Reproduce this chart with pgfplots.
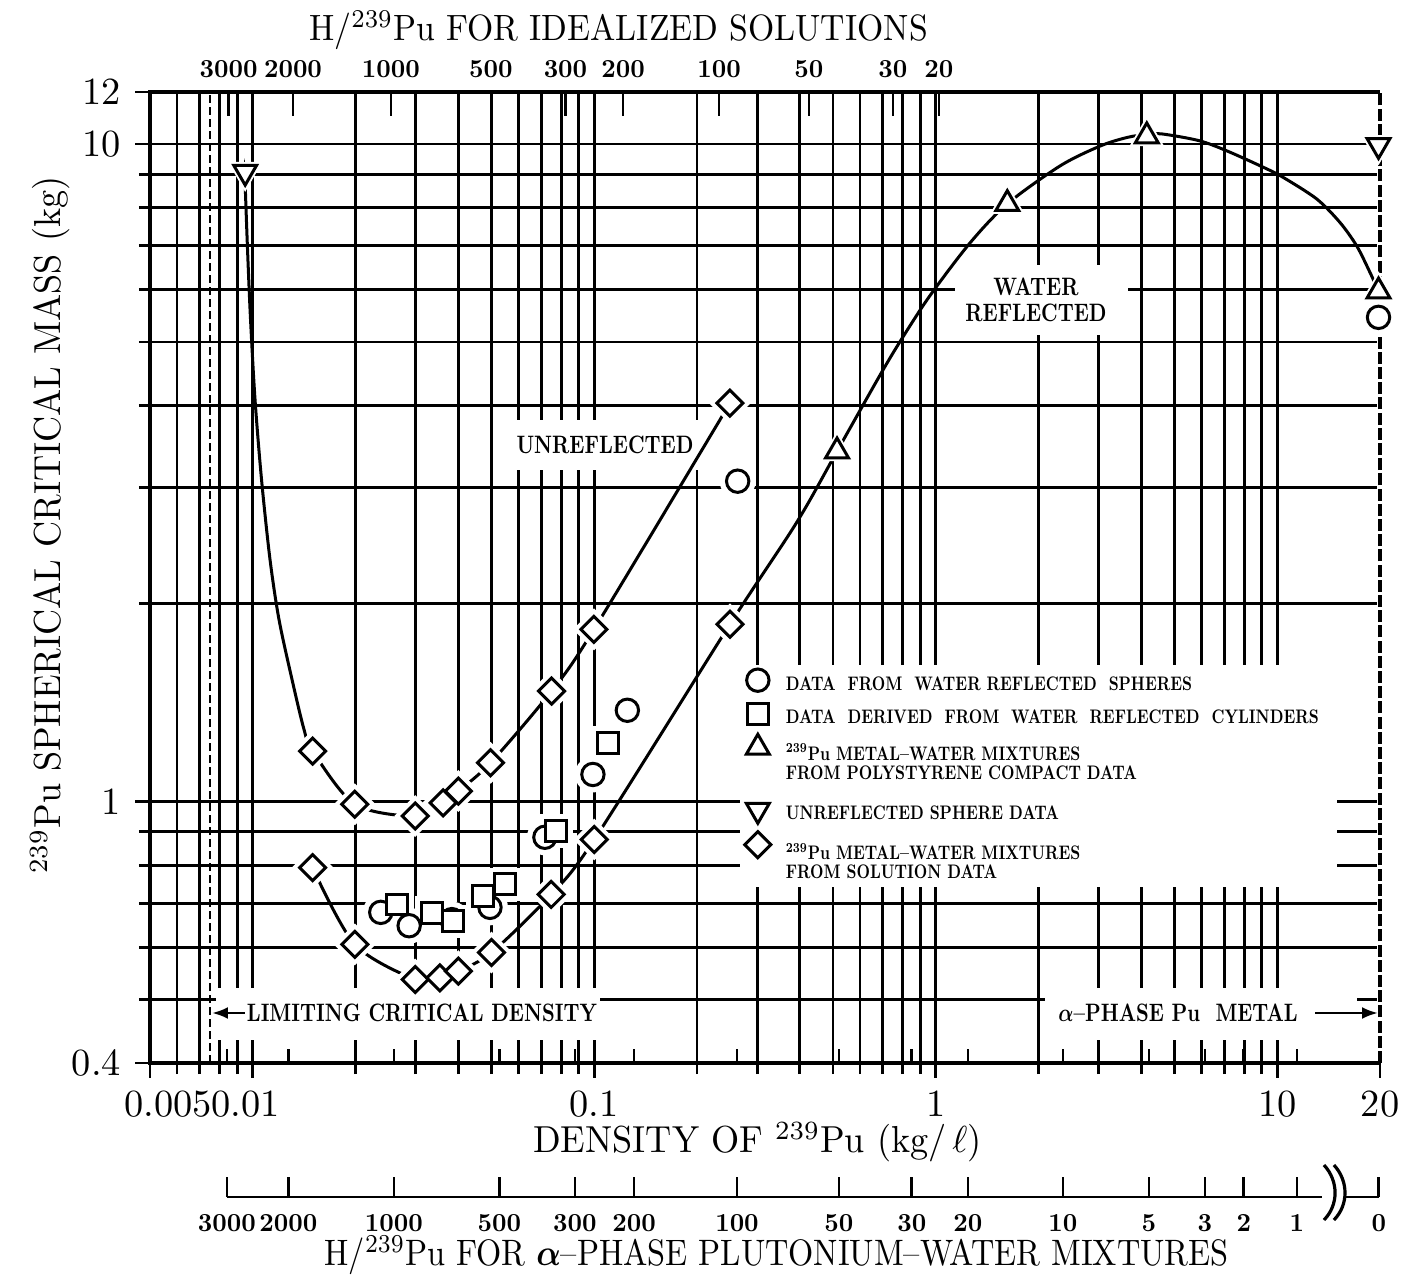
\documentclass[border=0pt]{standalone}
\usepackage{pgfplots}
\pgfplotsset{compat=1.18}
\usepackage{graphicx}
\usetikzlibrary{arrows.meta}

\newcommand{\tkf}{\fontsize{9.6}{11}\selectfont}
\newcommand{\hp}[1]{\scalebox{0.63}[0.65]{\fontsize{10}{12}\selectfont\bfseries #1}}
\newcommand{\an}[1]{\scalebox{0.5}[0.63]{\fontsize{10}{10.3}\selectfont\bfseries #1}}
\newcommand{\lgone}[1]{\rule[-1.4pt]{0pt}{4.8pt}\scalebox{0.39}[0.49]{\fontsize{10}{9.7}\selectfont\bfseries #1}}
\newcommand{\lgtwo}[2]{\rule[-6.2pt]{0pt}{11pt}\scalebox{0.39}[0.49]{\fontsize{10}{9.7}\selectfont\bfseries\begin{tabular}[t]{@{}l@{}}#1\\#2\end{tabular}}}
\newcommand{\ttl}[1]{\scalebox{0.905}[0.94]{\fontsize{10}{12}\selectfont #1}}
\newcommand{\pu}{\textsuperscript{239}Pu}

\pgfplotsset{
  legimg/.style={legend image code/.code={\path[draw=none,fill=none] (0pt,-1.4pt) rectangle (9.65pt,3.4pt);\draw[##1,overlay] plot coordinates {(4.25pt,1.5pt)};}},
  legimgtwo/.style={legend image code/.code={\path[draw=none,fill=none] (0pt,-9.7pt) rectangle (9.65pt,3.4pt);\draw[##1,overlay] plot coordinates {(4.25pt,1.5pt)};}},
  halo/.style={only marks, forget plot, white},
}

\begin{document}
\begin{tikzpicture}
\begin{axis}[
  at={(0,0)}, anchor=south west,
  scale only axis, width=307.5pt, height=242.75pt,
  xmode=log, ymode=log,
  xmin=0.005, xmax=20, ymin=0.4, ymax=12,
  clip=false,
  axis line style={draw=none},
  xtick={0.005,0.01,0.1,1,10,20},
  xticklabels={\hspace*{9pt}0.005,0.01\hspace*{3.5pt},0.1,1,10,20},
  minor xtick={0.006,0.007,0.008,0.009,0.02,0.03,0.04,0.05,0.06,0.07,0.08,0.09,0.2,0.3,0.4,0.5,0.6,0.7,0.8,0.9,2,3,4,5,6,7,8,9},
  ytick={0.4,1,10,12},
  yticklabels={0.4,1,10,12},
  minor ytick={0.5,0.6,0.7,0.8,0.9,2,3,4,5,6,7,8,9},
  grid=both,
  major grid style={black,line width=0.7pt},
  minor grid style={black,line width=0.7pt},
  tick align=outside,
  xtick pos=left, ytick pos=left,
  major tick length=3.75pt, minor tick length=2.8pt,
  tick style={black,line width=0.7pt},
  tick label style={font=\tkf},
  xticklabel style={inner sep=1pt, yshift=-2.0pt},
  extra x ticks={0.008403,0.01272,0.02591,0.05277,0.0878,0.1308,0.2618,0.5205,0.8514,1.2427,2.358,4.210,6.142,7.985,11.42},
  extra x tick labels={},
  extra x tick style={grid=none, tick align=inside, major tick length=3.5pt},
  xlabel={\ttl{DENSITY OF \pu\ (kg/\,$\ell$)}},
  xlabel style={inner sep=1pt, at={([yshift=-19.75pt]rel axis cs:0.4939,0)}, anchor=center},
  ylabel={\ttl{\pu\ SPHERICAL CRITICAL MASS (kg)}},
  ylabel style={at={([xshift=-25pt]rel axis cs:0,0.554)}, anchor=center},
  legend style={at={(0.4797,0.4029)}, anchor=north west, draw=none, fill=none, inner sep=0pt, row sep=2.55pt, nodes={inner xsep=1.6pt, inner ysep=0pt}},
  legend cell align=left,
]
% white boxes behind texts and legend
\fill[white] (rel axis cs:0.4797,0.1813) rectangle (rel axis cs:0.9650,0.4099);
\fill[white] (rel axis cs:0.0537,0.0237) rectangle (rel axis cs:0.3659,0.0772);
\fill[white] (rel axis cs:0.7276,0.0237) rectangle (rel axis cs:0.9813,0.0772);
\fill[white] (rel axis cs:0.2886,0.6107) rectangle (rel axis cs:0.4512,0.6622);
\fill[white] (rel axis cs:0.6545,0.7497) rectangle (rel axis cs:0.7951,0.8218);
\node at (rel axis cs:0.2211,0.0515) {\an{LIMITING CRITICAL DENSITY}};
\node at (rel axis cs:0.8358,0.0515) {\an{{\boldmath$\alpha$}--PHASE Pu\ \ METAL}};
\node at (rel axis cs:0.3699,0.6365) {\an{UNREFLECTED}};
\node at (rel axis cs:0.7203,0.7827) {\an{\begin{tabular}{@{}c@{}}WATER\\REFLECTED\end{tabular}}};

% reference lines and frame
\addplot[forget plot, black, line width=0.6pt, dash pattern=on 2pt off 1pt] coordinates {(0.0075,0.4) (0.0075,12)};
\addplot[forget plot, white, line width=1.6pt] coordinates {(20,0.4) (20,12)};
\addplot[forget plot, black, line width=1.0pt, dash pattern=on 3pt off 0.8pt] coordinates {(20,0.4) (20,12)};
\draw[line width=0.9pt] (rel axis cs:1,1) -- (rel axis cs:0,1) -- (rel axis cs:0,0) -- (rel axis cs:1,0);

% curves
\addplot[forget plot, black, smooth, tension=0.5, line width=0.75pt, no marks] coordinates {
 (0.0095,9.0) (0.009489,8.847) (0.009651,6.923) (0.009848,5.416) (0.010151,4.092) (0.010606,3.091)
 (0.01123,2.335) (0.011932,1.892) (0.013024,1.534) (0.014124,1.287) (0.01497,1.193)
 (0.0199,0.99) (0.0299,0.950) (0.0361,0.995) (0.0400,1.037) (0.0497,1.145)
 (0.0750,1.472) (0.0998,1.827) (0.2496,4.035)};
\addplot[forget plot, black, smooth, tension=0.5, line width=0.75pt, no marks] coordinates {
 (0.01497,0.793) (0.0199,0.606) (0.0299,0.536) (0.0353,0.539) (0.0400,0.552) (0.0500,0.589)
 (0.0748,0.722) (0.1000,0.875) (0.2496,1.86) (0.3914,2.656) (0.514,3.41) (0.6866,4.45)
 (0.7944,5.05) (0.9617,5.88) (1.259,7.07) (1.62,8.11) (2.318,9.27) (3.044,9.94) (3.654,10.24)
 (4.15,10.34) (4.6,10.36) (5.9,10.12) (7.1,9.77) (9.1,9.22) (10.4,8.90) (13.05,8.25)
 (15.26,7.60) (17.09,7.00) (18.69,6.38) (19.8,5.97)};

% halos (white, hide lines near markers)
\addplot[halo, mark=*, mark size=4.3pt, mark options={fill=white,draw=white}] coordinates {(0.0237,0.678) (0.0287,0.647) (0.0383,0.661) (0.0495,0.690) (0.0717,0.882) (0.0991,1.099) (0.125,1.376) (0.263,3.07) (19.8,5.45)};
\addplot[halo, mark=square*, mark size=4.0pt, mark options={fill=white,draw=white}] coordinates {(0.0264,0.697) (0.0334,0.677) (0.0386,0.657) (0.0473,0.718) (0.0548,0.748) (0.0772,0.901) (0.1095,1.228)};
\addplot[halo, mark=triangle*, mark size=4.6pt, mark options={fill=white,draw=white}] coordinates {(0.514,3.41) (1.62,8.11) (4.15,10.28) (19.8,5.97)};
\addplot[halo, mark=triangle*, mark size=4.6pt, mark options={fill=white,draw=white,rotate=180}] coordinates {(0.0095,9.07) (19.8,9.96)};
\addplot[halo, mark=square*, mark size=3.5pt, mark options={fill=white,draw=white,rotate=45}] coordinates {
 (0.01497,1.193) (0.0199,0.99) (0.0299,0.950) (0.0361,0.995) (0.0400,1.037) (0.0497,1.145) (0.0750,1.472) (0.0998,1.827) (0.2496,4.035)
 (0.01497,0.793) (0.0199,0.606) (0.0299,0.536) (0.0353,0.539) (0.0400,0.552) (0.0500,0.589) (0.0748,0.722) (0.1000,0.875) (0.2496,1.86)};

% markers
\addplot[black, only marks, mark=*, mark size=2.8pt, mark options={fill=white,draw=black,line width=0.75pt,solid}, legimg] coordinates {(0.0237,0.678) (0.0287,0.647) (0.0383,0.661) (0.0495,0.690) (0.0717,0.882) (0.0991,1.099) (0.125,1.376) (0.263,3.07) (19.8,5.45)};
\addlegendentry{\lgone{DATA\ \ FROM\ \ WATER REFLECTED\ \ SPHERES}}
\addplot[black, only marks, mark=square*, mark size=2.6pt, mark options={fill=white,draw=black,line width=0.75pt,solid}, legimg] coordinates {(0.0264,0.697) (0.0334,0.677) (0.0386,0.657) (0.0473,0.718) (0.0548,0.748) (0.0772,0.901) (0.1095,1.228)};
\addlegendentry{\lgone{DATA\ \ DERIVED\ \ FROM\ \ WATER\ \ REFLECTED\ \ CYLINDERS}}
\addplot[black, only marks, mark=triangle*, mark size=3.3pt, mark options={fill=white,draw=black,line width=0.75pt,solid}, legimgtwo] coordinates {(0.514,3.41) (1.62,8.11) (4.15,10.28) (19.8,5.97)};
\addlegendentry{\lgtwo{\pu\ METAL--WATER MIXTURES}{FROM POLYSTYRENE COMPACT DATA}}
\addplot[black, only marks, mark=triangle*, mark size=3.3pt, mark options={fill=white,draw=black,line width=0.75pt,solid,rotate=180}, legimg] coordinates {(0.0095,9.07) (19.8,9.96)};
\addlegendentry{\lgone{UNREFLECTED SPHERE DATA}}
\addplot[black, only marks, mark=square*, mark size=2.3pt, mark options={fill=white,draw=black,line width=0.75pt,solid,rotate=45}, legimgtwo] coordinates {
 (0.01497,1.193) (0.0199,0.99) (0.0299,0.950) (0.0361,0.995) (0.0400,1.037) (0.0497,1.145) (0.0750,1.472) (0.0998,1.827) (0.2496,4.035)
 (0.01497,0.793) (0.0199,0.606) (0.0299,0.536) (0.0353,0.539) (0.0400,0.552) (0.0500,0.589) (0.0748,0.722) (0.1000,0.875) (0.2496,1.86)};
\addlegendentry{\rule{0pt}{5.8pt}\lgtwo{\pu\ METAL--WATER MIXTURES}{FROM SOLUTION DATA}}

% arrows
\draw[-{Latex[length=4pt,width=3pt]}, line width=0.7pt] (rel axis cs:0.0772,0.0515) -- (rel axis cs:0.0504,0.0515);
\draw[-{Latex[length=4pt,width=3pt]}, line width=0.7pt] (rel axis cs:0.9472,0.0515) -- (rel axis cs:0.9984,0.0515);
\end{axis}

% top axis: H/Pu for idealized solutions
\begin{axis}[
  at={(0,0)}, anchor=south west,
  scale only axis, width=307.5pt, height=242.75pt,
  xmode=log, xmin=0.005, xmax=20, ymin=0, ymax=1,
  axis x line*=top, axis y line=none, axis line style={draw=none},
  xtick={0.008495,0.013115,0.02539,0.04983,0.08236,0.1214,0.2319,0.4253,0.7494,1.022},
  xticklabels={\hp{3000},\hp{2000},\hp{1000},\hp{500},\hp{300},\hp{200},\hp{100},\hp{50},\hp{30},\hp{20}},
  minor xtick={},
  tick align=inside, major tick length=6pt,
  tick style={black,line width=0.7pt},
  xticklabel style={inner sep=0pt, yshift=3.4pt},
  xlabel={\scalebox{0.843}[0.915]{\fontsize{10}{12}\selectfont H/\pu\ FOR IDEALIZED SOLUTIONS}},
  xlabel style={at={([yshift=15.5pt]rel axis cs:0.3809,1)}, anchor=center},
]
\end{axis}

% bottom axis: H/Pu for alpha-phase plutonium-water mixtures
\begin{axis}[
  at={(0,-33.5pt)}, anchor=south west,
  scale only axis, width=307.5pt, height=5pt,
  xmode=log, xmin=0.005, xmax=20, ymin=0, ymax=1, clip=false,
  axis x line*=bottom, axis y line=none, axis line style={draw=none},
  xtick={0.008403,0.01272,0.02591,0.05277,0.0878,0.1308,0.2618,0.5205,0.8514,1.2427,2.358,4.210,6.142,7.985,11.42,19.84},
  xticklabels={\hp{3000},\hp{2000},\hp{1000},\hp{500},\hp{300},\hp{200},\hp{100},\hp{50},\hp{30},\hp{20},\hp{10},\hp{5},\hp{3},\hp{2},\hp{1},\hp{0}},
  minor xtick={},
  tick align=inside, major tick length=5pt,
  tick style={black,line width=0.7pt},
  xticklabel style={inner sep=0pt, yshift=-4.25pt},
  xlabel={\scalebox{0.81}[0.92]{\fontsize{10}{12}\selectfont H/\pu\ FOR {\boldmath$\alpha$}--PHASE PLUTONIUM--WATER MIXTURES}},
  xlabel style={inner sep=1pt, at={([yshift=-14.5pt]rel axis cs:0.5095,0)}, anchor=center},
]
\draw[line width=0.7pt] (axis cs:0.008403,0) -- (axis cs:13.52,0);
\draw[line width=0.7pt] (axis cs:15.68,0) -- (axis cs:19.84,0);
\draw[line width=0.8pt] ([shift={(-1.5pt,8pt)}]axis cs:14.27,0) .. controls ([shift={(2.2pt,4pt)}]axis cs:14.27,0) and ([shift={(2.2pt,-2pt)}]axis cs:14.27,0) .. ([shift={(-1.5pt,-5.75pt)}]axis cs:14.27,0);
\draw[line width=0.8pt] ([shift={(-1.5pt,8pt)}]axis cs:15.26,0) .. controls ([shift={(2.2pt,4pt)}]axis cs:15.26,0) and ([shift={(2.2pt,-2pt)}]axis cs:15.26,0) .. ([shift={(-1.5pt,-5.75pt)}]axis cs:15.26,0);
\end{axis}

\pgfresetboundingbox
\path (-37.5pt,-53.25pt) rectangle (313.75pt,265.75pt);
\end{tikzpicture}
\end{document}
